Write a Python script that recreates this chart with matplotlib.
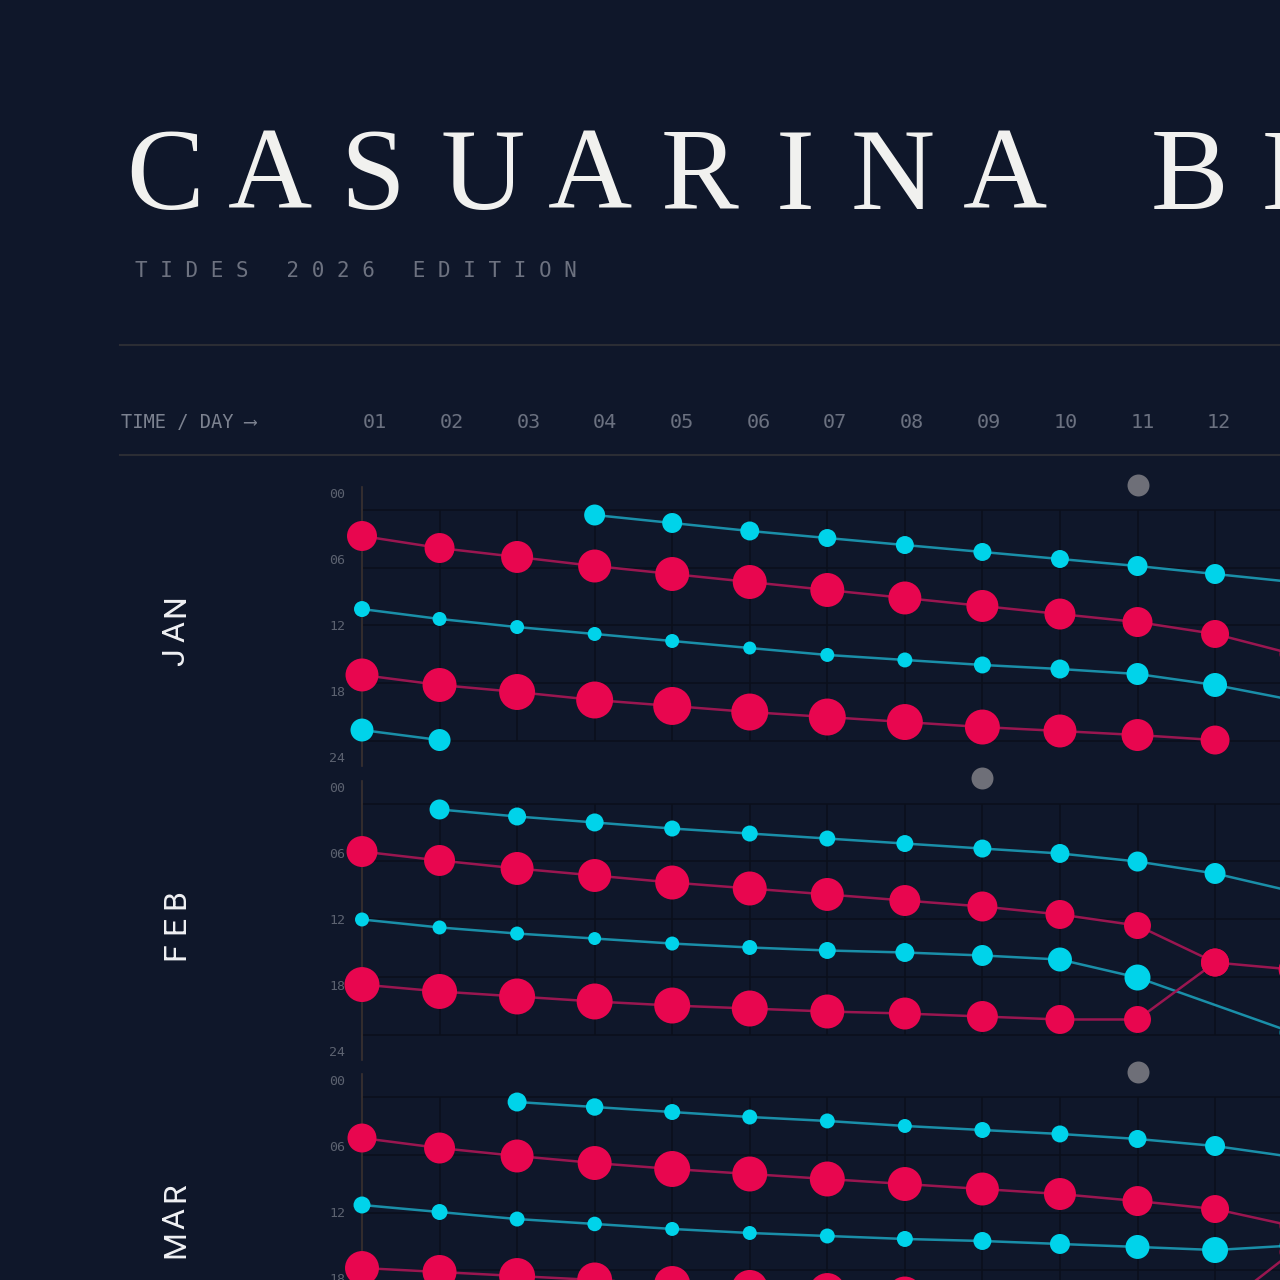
# -*- coding: utf-8 -*-
"""
Casuarina Beach tide calendar (Jan-Mar 2026), dark poster style.
Each panel = one month; x = day, y = time of day (00 at top).
Red = high tide, cyan = low tide, dot area ~ tide height (m).
"""

import numpy as np
import matplotlib
matplotlib.use("Agg")
import matplotlib.pyplot as plt
from matplotlib import font_manager
from matplotlib.lines import Line2D
from matplotlib.transforms import blended_transform_factory

# ---- colours ----
BG = "#0f172a"
HIGH = "#e8064f"
HIGH_LINE = "#9a1650"
LOW = "#00d3ea"
LOW_LINE = "#1a8fa9"
MOON = "#6e6f78"
GRID = "#0a0f1b"
RULE = "#2b2d34"
SPINE = "#3b3231"

# ---- labels ----
TITLE = "CASUARINA BEACH"
SUBTITLE = "T I D E S   2 0 2 6   E D I T I O N"
MONTHS = ["JAN", "FEB", "MAR"]
DAYS = [1, 2, 3, 4, 5, 6, 7, 8, 9, 10, 11, 12]
DAY_LABELS = ["01", "02", "03", "04", "05", "06", "07", "08", "09", "10", "11", "12"]
HOUR_GRID = [0, 6, 12, 18, 24]
HOUR_LABELS = ["00", "06", "12", "18", "24"]

# ---- data: day, time (hours), height (m) ----
# January
jan_low1_day = [4, 5, 6, 7, 8, 9, 10, 11, 12, 13]
jan_low1_hr = [0.52, 1.35, 2.18, 2.91, 3.64, 4.36, 5.09, 5.82, 6.65, 7.48]
jan_low1_m = [1.10, 1.00, 0.90, 0.81, 0.81, 0.81, 0.81, 1.00, 1.00, 1.00]
jan_high1_day = [1, 2, 3, 4, 5, 6, 7, 8, 9, 10, 11, 12, 13]
jan_high1_hr = [2.70, 3.95, 4.88, 5.82, 6.65, 7.48, 8.31, 9.14, 9.97, 10.81, 11.64, 12.88, 14.96]
jan_high1_m = [2.25, 2.25, 2.56, 2.72, 2.89, 2.89, 2.89, 2.72, 2.56, 2.40, 2.25, 1.96, 1.69]
jan_low2_day = [1, 2, 3, 4, 5, 6, 7, 8, 9, 10, 11, 12, 13]
jan_low2_hr = [10.29, 11.32, 12.16, 12.88, 13.61, 14.34, 15.06, 15.58, 16.10, 16.52, 17.04, 18.18, 19.74]
jan_low2_m = [0.64, 0.49, 0.49, 0.49, 0.49, 0.42, 0.49, 0.56, 0.72, 0.90, 1.21, 1.44, 1.44]
jan_high2_day = [1, 2, 3, 4, 5, 6, 7, 8, 9, 10, 11, 12]
jan_high2_hr = [17.14, 18.18, 18.91, 19.74, 20.36, 20.99, 21.51, 22.03, 22.55, 22.96, 23.38, 23.90]
jan_high2_m = [2.72, 2.89, 3.24, 3.42, 3.61, 3.42, 3.42, 3.24, 3.06, 2.72, 2.56, 2.10]
jan_low3_day = [1, 2]
jan_low3_hr = [22.86, 23.90]
jan_low3_m = [1.32, 1.21]

# February
feb_low1_day = [2, 3, 4, 5, 6, 7, 8, 9, 10, 11, 12, 13]
feb_low1_hr = [0.62, 1.35, 1.97, 2.60, 3.12, 3.64, 4.16, 4.68, 5.19, 6.03, 7.27, 9.14]
feb_low1_m = [1.00, 0.81, 0.81, 0.64, 0.64, 0.64, 0.72, 0.81, 0.90, 1.00, 1.10, 1.10]
feb_high1_day = [1, 2, 3, 4, 5, 6, 7, 8, 9, 10, 11, 12, 13]
feb_high1_hr = [4.99, 5.92, 6.75, 7.48, 8.21, 8.83, 9.45, 10.08, 10.70, 11.53, 12.68, 16.52, 17.25]
feb_high1_m = [2.40, 2.40, 2.72, 2.72, 2.89, 2.89, 2.72, 2.40, 2.25, 2.10, 1.82, 1.96, 1.96]
feb_low2_day = [1, 2, 3, 4, 5, 6, 7, 8, 9, 10, 11, 13]
feb_low2_hr = [12.05, 12.88, 13.51, 14.03, 14.55, 14.96, 15.27, 15.48, 15.79, 16.21, 18.08, 23.79]
feb_low2_m = [0.49, 0.49, 0.49, 0.42, 0.49, 0.56, 0.72, 0.90, 1.10, 1.44, 1.69, 1.69]
feb_high2_day = [1, 2, 3, 4, 5, 6, 7, 8, 9, 10, 11, 12]
feb_high2_hr = [18.81, 19.53, 20.05, 20.57, 20.99, 21.30, 21.61, 21.82, 22.13, 22.44, 22.44, 16.52]
feb_high2_m = [3.06, 3.06, 3.24, 3.24, 3.24, 3.24, 2.89, 2.56, 2.40, 2.10, 1.82, 1.96]

# March
mar_low1_day = [3, 4, 5, 6, 7, 8, 9, 10, 11, 12, 13]
mar_low1_hr = [0.52, 1.04, 1.56, 2.08, 2.49, 3.01, 3.43, 3.84, 4.36, 5.09, 6.23]
mar_low1_m = [0.90, 0.76, 0.64, 0.56, 0.56, 0.49, 0.64, 0.72, 0.81, 1.00, 1.00]
mar_high1_day = [1, 2, 3, 4, 5, 6, 7, 8, 9, 10, 11, 12, 13]
mar_high1_hr = [4.26, 5.30, 6.13, 6.86, 7.48, 8.00, 8.52, 9.04, 9.56, 10.08, 10.81, 11.64, 13.40]
mar_high1_m = [2.10, 2.40, 2.72, 2.89, 3.24, 3.06, 3.06, 2.89, 2.72, 2.56, 2.25, 1.96, 1.69]
mar_low2_day = [1, 2, 3, 4, 5, 6, 7, 8, 9, 10, 11, 12, 13]
mar_low2_hr = [11.22, 11.95, 12.68, 13.19, 13.71, 14.13, 14.44, 14.75, 14.96, 15.27, 15.58, 15.90, 15.43]
mar_low2_m = [0.72, 0.64, 0.56, 0.53, 0.49, 0.49, 0.56, 0.64, 0.81, 1.00, 1.44, 1.69, 1.69]
mar_high2_day = [1, 2, 3, 4, 5, 6, 7, 8, 9, 10, 11, 12, 13]
mar_high2_hr = [17.77, 18.18, 18.60, 19.01, 19.43, 19.84, 20.16, 20.47, 20.78, 21.09, 21.51, 22.34, 16.10]
mar_high2_m = [2.89, 2.89, 3.24, 3.06, 3.24, 3.24, 3.24, 3.06, 2.89, 2.72, 2.40, 2.10, 1.69]

# moon-phase marker day per month
MOON_DAYS = [11, 9, 11]

SERIES = [
    [("low", jan_low1_day, jan_low1_hr, jan_low1_m),
     ("high", jan_high1_day, jan_high1_hr, jan_high1_m),
     ("low", jan_low2_day, jan_low2_hr, jan_low2_m),
     ("high", jan_high2_day, jan_high2_hr, jan_high2_m),
     ("low", jan_low3_day, jan_low3_hr, jan_low3_m)],
    [("low", feb_low1_day, feb_low1_hr, feb_low1_m),
     ("high", feb_high1_day, feb_high1_hr, feb_high1_m),
     ("low", feb_low2_day, feb_low2_hr, feb_low2_m),
     ("high", feb_high2_day, feb_high2_hr, feb_high2_m)],
    [("low", mar_low1_day, mar_low1_hr, mar_low1_m),
     ("high", mar_high1_day, mar_high1_hr, mar_high1_m),
     ("low", mar_low2_day, mar_low2_hr, mar_low2_m),
     ("high", mar_high2_day, mar_high2_hr, mar_high2_m)],
]


def pick_font(candidates, fallback):
    installed = {f.name for f in font_manager.fontManager.ttflist}
    for name in candidates:
        if name in installed:
            return name
    return fallback


MONO = ["DejaVu Sans Mono", "DejaVu Sans"]
SERIF = pick_font(["Liberation Serif", "DejaVu Serif"], "serif")
NARROW = pick_font(["Liberation Sans Narrow", "Roboto", "Noto Sans"], "DejaVu Sans")

# ---- layout (pixels on a 1280 canvas) ----
W = 1280.0
PX_PER_HR = 9.625
DAY_PX = 77.55
X0 = 362.0            # x pixel of day 01
GRID_TOP = 510.0      # y pixel of 00h in first panel
PANEL_STEP = 293.5
SIZE_K = 207.0        # scatter area (pt^2) per metre of tide
MOON_SIZE = 250.0


def fy(px):
    return 1 - px / W


fig = plt.figure(figsize=(12.8, 12.8), dpi=100, facecolor=BG)

# title, one letter at a time for the wide tracking
title_centers = [165, 270, 373, 483, 590, 700, 795, 893, 1005, 1190, 1297, 1400, 1505, 1610]
for ch, cx in zip(TITLE.replace(" ", ""), title_centers):
    fig.text(cx / W, fy(209), ch, fontsize=84, family=SERIF, color="#f1f1ef",
             ha="center", va="baseline")

fig.text(135 / W, fy(277), SUBTITLE, fontsize=15, family=MONO, color="#6d7280",
         ha="left", va="baseline")

for ypx in (345, 455):
    fig.add_artist(Line2D([120 / W, 1], [fy(ypx), fy(ypx)], color=RULE, lw=1.5))

fig.text(121 / W, fy(423), "TIME / DAY ⟶", fontsize=13.5, family=MONO,
         color="#7c8290", ha="left", va="center")

axes = []
for i, month in enumerate(MONTHS):
    g0 = GRID_TOP + PANEL_STEP * i
    top = g0 - 23
    bottom = g0 + 24 * PX_PER_HR + 25
    ax = fig.add_axes([X0 / W, 1 - bottom / W, (W - X0) / W, (bottom - top) / W])
    ax.set_facecolor("none")
    ax.set_xlim(1, 1 + (W - X0) / DAY_PX)
    ax.set_ylim(24 + 25 / PX_PER_HR, -23 / PX_PER_HR)
    for side in ("top", "right", "bottom"):
        ax.spines[side].set_visible(False)
    ax.spines["left"].set_color(SPINE)
    ax.spines["left"].set_linewidth(1.2)
    ax.set_xticks([])

    # hour labels sit on their own (slightly wider) scale; drop any fully off the canvas
    lab_px = np.linspace(-17, 247, 5)
    keep = [j for j in range(5) if g0 + lab_px[j] < W + 4]
    ax.set_yticks(lab_px[keep] / PX_PER_HR)
    ax.set_yticklabels([HOUR_LABELS[j] for j in keep])
    ax.tick_params(axis="y", length=0, pad=12, labelcolor="#5c6270", labelsize=9.5)
    for t in ax.get_yticklabels():
        t.set_fontfamily(MONO)

    # grid
    ax.hlines(HOUR_GRID, 1, 14, color=GRID, lw=1.1, zorder=1, clip_on=False)
    ax.vlines(DAYS + [13], 0, 24, color=GRID, lw=1.1, zorder=1, clip_on=False)

    # lines first, then dots on top
    for kind, d, h, m in SERIES[i]:
        ax.plot(d, h, color=LOW_LINE if kind == "low" else HIGH_LINE, lw=1.8,
                zorder=2, clip_on=False, solid_capstyle="round")
    for kind, d, h, m in SERIES[i]:
        ax.scatter(d, h, s=SIZE_K * np.array(m), color=LOW if kind == "low" else HIGH,
                   linewidths=0, zorder=3, clip_on=False)

    ax.scatter([MOON_DAYS[i]], [-2.6], s=MOON_SIZE, color=MOON, linewidths=0,
               zorder=3, clip_on=False)

    # month name, vertical, spaced letters
    tr = blended_transform_factory(fig.transFigure, ax.transData)
    step = 26 / PX_PER_HR
    n = len(month)
    for k, ch in enumerate(month):
        yy = 12.6 + (n - 1) / 2 * step - k * step
        ax.text(176 / W, yy, ch, transform=tr, rotation=90, fontsize=23,
                family=NARROW, fontweight="normal", color="#f0f1f4",
                ha="center", va="center")
    axes.append(ax)

# day header: its own slightly tighter scale, starting a little right of day 01
tr = blended_transform_factory(axes[0].transData, fig.transFigure)
head_px = np.linspace(375, 1219, len(DAYS))
for px, lab in zip(head_px, DAY_LABELS):
    axes[0].text(1 + (px - X0) / DAY_PX, fy(423), lab, transform=tr, fontsize=14.5,
                 family=MONO, color="#6b7180", ha="center", va="center")

fig.savefig("out.png", dpi=100, facecolor=BG)
